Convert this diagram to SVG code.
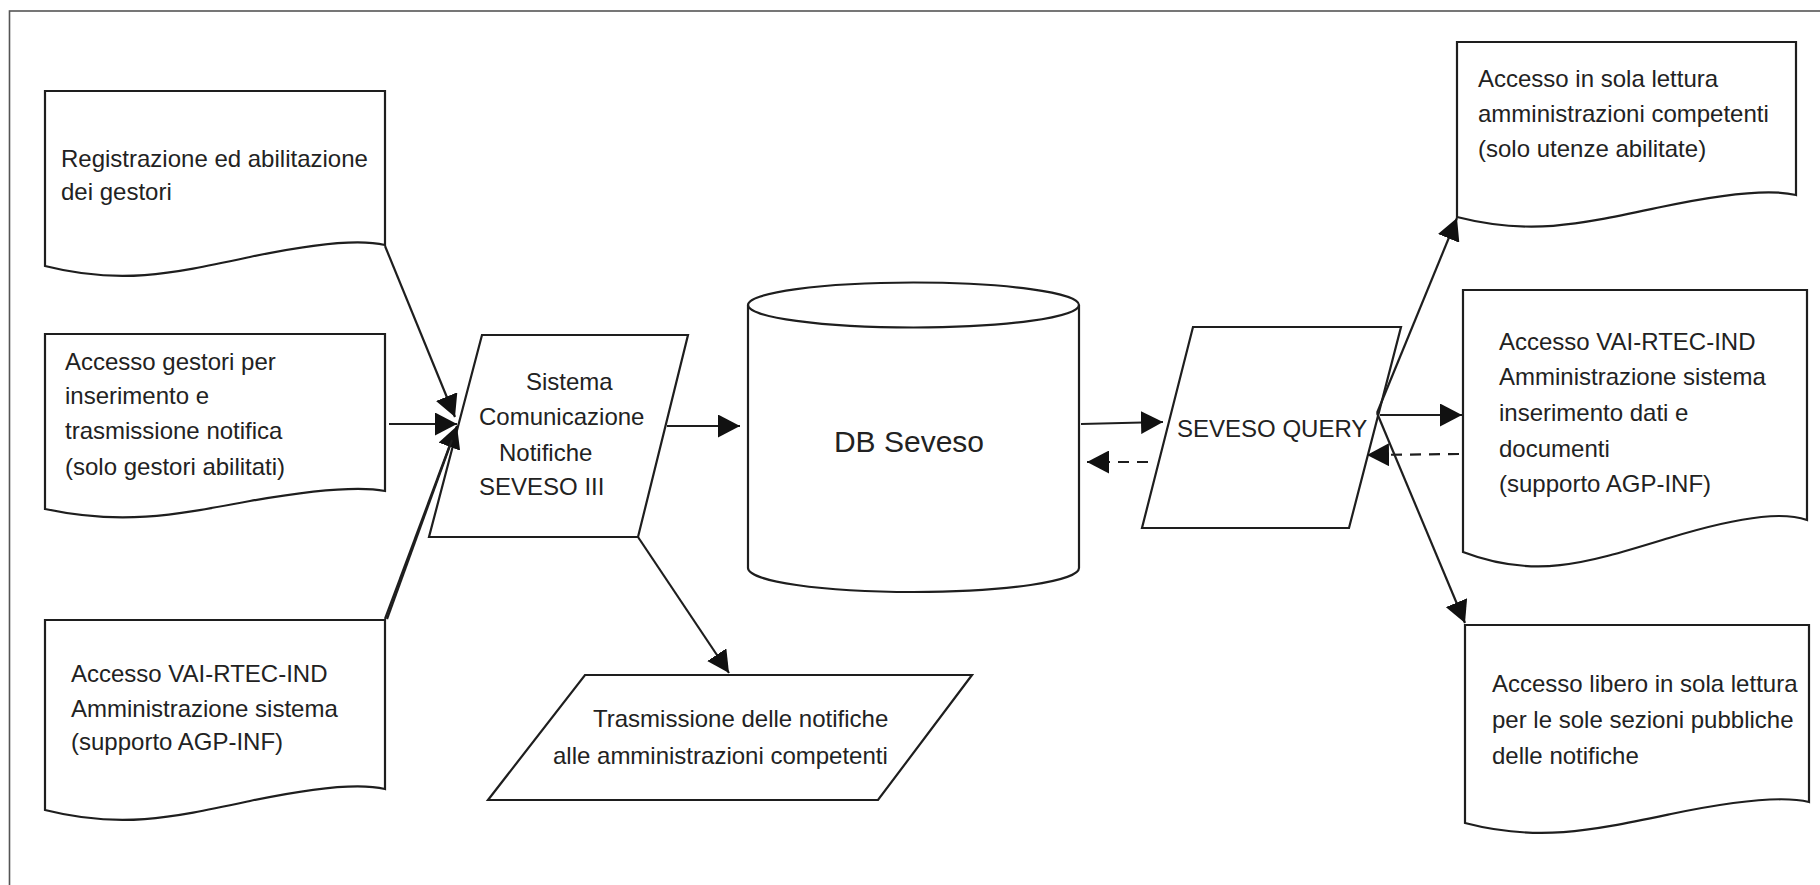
<svg xmlns="http://www.w3.org/2000/svg" width="1820" height="885" viewBox="0 0 1820 885">
<style>
.shape{fill:#fff;stroke:#1e1e1e;stroke-width:2.2;stroke-linejoin:miter}
.t{font-family:"Liberation Sans",Arial,Helvetica,sans-serif;font-size:24px;fill:#222}
.c{fill:none;stroke:#1e1e1e;stroke-width:2.2}
.d{stroke-dasharray:11 8}
</style>
<defs>
<marker id="ah" viewBox="0 0 22 23" refX="22" refY="11.5" markerWidth="22" markerHeight="23" markerUnits="userSpaceOnUse" orient="auto">
<path d="M0,0 L22,11.5 L0,23 z" fill="#111"/>
</marker>
</defs>
<rect x="9.5" y="11" width="1840" height="900" fill="#fff" stroke="#555" stroke-width="1.6"/>

<g id="doc-registrazione">
<path class="shape" d="M45,91 H385 V245 c-20,-5 -55,-5 -135,12 c-80,17 -130,28 -205,9 Z"/>
<text class="t" x="61" y="167">Registrazione ed abilitazione</text>
<text class="t" x="61" y="200">dei gestori</text>
</g>

<g id="doc-accesso-gestori">
<path class="shape" d="M45,334 H385 V491 c-20,-4 -55,-4 -135,10 c-80,15 -130,24 -205,8 Z"/>
<text class="t" x="65" y="370">Accesso gestori per</text>
<text class="t" x="65" y="404">inserimento e</text>
<text class="t" x="65" y="439">trasmissione notifica</text>
<text class="t" x="65" y="475">(solo gestori abilitati)</text>
</g>

<g id="doc-vai-left">
<path class="shape" d="M45,620 H385 V789 c-20,-5 -55,-5 -135,12 c-80,17 -130,28 -205,9 Z"/>
<text class="t" x="71" y="682">Accesso VAI-RTEC-IND</text>
<text class="t" x="71" y="717">Amministrazione sistema</text>
<text class="t" x="71" y="750">(supporto AGP-INF)</text>
</g>

<g id="sistema">
<path class="shape" d="M482,335 L688,335 L638,537 L429,537 Z"/>
<text class="t" x="526" y="390">Sistema</text>
<text class="t" x="479" y="425">Comunicazione</text>
<text class="t" x="499" y="461">Notifiche</text>
<text class="t" x="479" y="495">SEVESO III</text>
</g>

<g id="db-seveso">
<path class="shape" d="M748,305 A165.5,22.5 0 0 1 1079,305 V568 A165.5,24 0 0 1 748,568 Z"/>
<path class="c" d="M748,305 A165.5,22.5 0 0 0 1079,305"/>
<text class="t" x="909" y="452" text-anchor="middle" style="font-size:30px">DB Seveso</text>
</g>

<g id="trasmissione">
<path class="shape" d="M585,675 L972,675 L878,800 L488,800 Z"/>
<text class="t" x="593" y="727">Trasmissione delle notifiche</text>
<text class="t" x="553" y="764">alle amministrazioni competenti</text>
</g>

<g id="seveso-query">
<path class="shape" d="M1193,327 L1401,327 L1349,528 L1142,528 Z"/>
<text class="t" x="1177" y="437">SEVESO QUERY</text>
</g>

<g id="doc-sola-lettura">
<path class="shape" d="M1457,42 H1796 V195 c-20,-5 -55,-5 -135,12 c-80,17 -130,29 -204,10 Z"/>
<text class="t" x="1478" y="87">Accesso in sola lettura</text>
<text class="t" x="1478" y="122">amministrazioni competenti</text>
<text class="t" x="1478" y="157">(solo utenze abilitate)</text>
</g>

<g id="doc-vai-right">
<path class="shape" d="M1463,290 H1807 V520 c-20,-7 -56,-7 -138,18 c-82,25 -133,42 -206,14 Z"/>
<text class="t" x="1499" y="350">Accesso VAI-RTEC-IND</text>
<text class="t" x="1499" y="385">Amministrazione sistema</text>
<text class="t" x="1499" y="421">inserimento dati e</text>
<text class="t" x="1499" y="457">documenti</text>
<text class="t" x="1499" y="492">(supporto AGP-INF)</text>
</g>

<g id="doc-accesso-libero">
<path class="shape" d="M1465,625 H1809 V802 c-20,-5 -56,-5 -138,12 c-82,17 -133,28 -206,9 Z"/>
<text class="t" x="1492" y="692">Accesso libero in sola lettura</text>
<text class="t" x="1492" y="728">per le sole sezioni pubbliche</text>
<text class="t" x="1492" y="764">delle notifiche</text>
</g>

<g id="connectors">
<line class="c" x1="385" y1="246" x2="455" y2="417" marker-end="url(#ah)"/>
<line class="c" x1="389" y1="424" x2="457" y2="424" marker-end="url(#ah)"/>
<line class="c" x1="385" y1="619" x2="457" y2="426" marker-end="url(#ah)"/>
<line class="c" x1="387" y1="619" x2="452" y2="440"/>
<line class="c" x1="667" y1="426" x2="740" y2="426" marker-end="url(#ah)"/>
<line class="c" x1="638" y1="537" x2="729" y2="673" marker-end="url(#ah)"/>
<line class="c" x1="1081" y1="424" x2="1163" y2="422" marker-end="url(#ah)"/>
<line class="c d" x1="1148" y1="462" x2="1087" y2="462" marker-end="url(#ah)"/>
<line class="c" x1="1377" y1="413" x2="1457" y2="218" marker-end="url(#ah)"/>
<line class="c" x1="1380" y1="415" x2="1462" y2="415" marker-end="url(#ah)"/>
<line class="c d" x1="1459" y1="454" x2="1367" y2="455" marker-end="url(#ah)"/>
<line class="c" x1="1377" y1="413" x2="1465" y2="623" marker-end="url(#ah)"/>
</g>
</svg>
